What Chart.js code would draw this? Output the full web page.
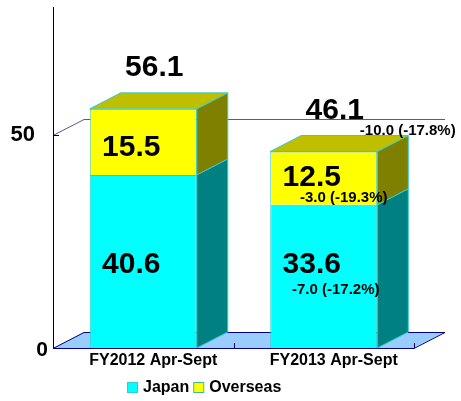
<!DOCTYPE html>
<html>
<head>
<meta charset="utf-8">
<script src="https://cdn.jsdelivr.net/npm/chart.js@4.4.1/dist/chart.umd.min.js"></script>
<style>
  html, body { margin: 0; padding: 0; background: #fff; }
  canvas { display: block; }
</style>
</head>
<body>
<canvas id="c" width="461" height="401"></canvas>
<script>
const categories = ["FY2012 Apr-Sept", "FY2013 Apr-Sept"];
const japan = [40.6, 33.6];
const overseas = [15.5, 12.5];
const japanChange = ["", "-7.0 (-17.2%)"];
const overseasChange = ["", "-3.0 (-19.3%)"];
const totalChange = ["", "-10.0 (-17.8%)"];
const yTicks = [0, 50];
const seriesNames = ["Japan", "Overseas"];

const DX = 31, DY = -16; // 3D depth
const FONT = '"Liberation Sans", Arial, sans-serif';

function poly(ctx, pts, fill, stroke) {
  ctx.beginPath();
  ctx.moveTo(pts[0][0], pts[0][1]);
  for (let i = 1; i < pts.length; i++) ctx.lineTo(pts[i][0], pts[i][1]);
  ctx.closePath();
  if (fill) { ctx.fillStyle = fill; ctx.fill(); }
  if (stroke) { ctx.strokeStyle = stroke; ctx.lineWidth = 1; ctx.stroke(); }
}

const backdrop = {
  id: "backdrop",
  beforeDatasetsDraw(chart) {
    const { ctx, chartArea: a, scales: { x, y } } = chart;
    ctx.save();
    // floor
    poly(ctx, [[a.left, a.bottom], [a.left + DX, a.bottom + DY], [a.right + DX, a.bottom + DY], [a.right, a.bottom]], "#99CCFF", null);
    ctx.strokeStyle = "#000080";
    ctx.lineWidth = 1;
    ctx.beginPath();
    ctx.moveTo(a.left, a.bottom + 0.5); ctx.lineTo(a.right, a.bottom + 0.5);
    ctx.lineTo(a.right + DX, a.bottom + DY + 0.5);
    ctx.lineTo(a.left + DX, a.bottom + DY + 0.5);
    ctx.lineTo(a.left, a.bottom + 0.5);
    ctx.stroke();
    // category separators on floor edge
    for (let i = 0; i < categories.length; i++) {
      const px = Math.round(x.getPixelForValue(i) + (x.getPixelForValue(1) - x.getPixelForValue(0)) / 2) + 0.5;
      ctx.beginPath(); ctx.moveTo(px, a.bottom); ctx.lineTo(px, a.bottom - 5); ctx.stroke();
    }
    // gridlines (skip 0)
    ctx.strokeStyle = "#5555A8";
    yTicks.forEach(v => {
      if (v === 0) return;
      const py = Math.round(y.getPixelForValue(v)) + 0.5;
      ctx.beginPath();
      ctx.moveTo(a.left, py);
      ctx.lineTo(a.left + DX, py + DY);
      ctx.lineTo(a.right + DX, py + DY);
      ctx.stroke();
    });
    // y axis line
    ctx.strokeStyle = "#000";
    ctx.beginPath();
    ctx.moveTo(a.left + 0.5, a.top); ctx.lineTo(a.left + 0.5, a.bottom);
    ctx.stroke();
    yTicks.forEach(v => {
      if (v === 0) return;
      const py = Math.round(y.getPixelForValue(v)) + 0.5;
      ctx.beginPath(); ctx.moveTo(a.left, py); ctx.lineTo(a.left + 6, py); ctx.stroke();
    });
    ctx.restore();
  }
};

const depth = {
  id: "depth",
  afterDatasetsDraw(chart) {
    const { ctx } = chart;
    const sides = ["#008080", "#808000"];
    ctx.save();
    chart.data.datasets.forEach((ds, di) => {
      chart.getDatasetMeta(di).data.forEach(bar => {
        const r = bar.x + bar.width / 2;
        poly(ctx, [[r, bar.y], [r + DX, bar.y + DY], [r + DX, bar.base + DY], [r, bar.base]], sides[di], "#33CCCC");
        if (di === chart.data.datasets.length - 1) {
          const l = bar.x - bar.width / 2;
          poly(ctx, [[l, bar.y], [l + DX, bar.y + DY], [r + DX, bar.y + DY], [r, bar.y]], "#BFBF00", "#33CCCC");
        }
      });
    });
    ctx.restore();
  }
};

const labels = {
  id: "labels",
  afterDraw(chart) {
    const { ctx, chartArea: a, scales: { x, y } } = chart;
    const jm = chart.getDatasetMeta(0).data;
    const om = chart.getDatasetMeta(1).data;
    ctx.save();
    ctx.fillStyle = "#000";
    ctx.textBaseline = "middle";
    ctx.textAlign = "center";
    for (let i = 0; i < categories.length; i++) {
      const cx = jm[i].x;
      // segment values
      ctx.font = "bold 30px " + FONT;
      const jy = jm[i].base - 83;
      ctx.fillText(japan[i].toFixed(1), cx - 12, jy);
      const oy = om[i].base - 27;
      ctx.fillText(overseas[i].toFixed(1), cx - 12, oy);
      const ty = om[i].y - 41;
      ctx.fillText((japan[i] + overseas[i]).toFixed(1), cx + 11, ty);
      // changes
      ctx.font = "bold 15px " + FONT;
      if (japanChange[i]) ctx.fillText(japanChange[i], cx + 12, jy + 25);
      if (overseasChange[i]) ctx.fillText(overseasChange[i], cx + 20, oy + 20);
      if (totalChange[i]) ctx.fillText(totalChange[i], cx + 84, ty + 20);
      // category label
      ctx.font = "bold 16px " + FONT;
      ctx.fillText(categories[i], cx + 10, a.bottom + 13);
    }
    // y tick labels
    ctx.textAlign = "right";
    yTicks.forEach(v => {
      const py = y.getPixelForValue(v);
      if (v === 0) {
        ctx.font = "bold 21px " + FONT;
        ctx.fillText(String(v), a.left - 5, py + 2);
      } else {
        ctx.font = "bold 22px " + FONT;
        ctx.fillText(String(v), a.left - 18, py);
      }
    });
    // legend
    const fills = ["#00FFFF", "#FFFF00"];
    const edges = ["#33CCCC", "#40C080"];
    ctx.textAlign = "left";
    ctx.font = "bold 16px " + FONT;
    let lx = 127;
    const ly = 388;
    seriesNames.forEach((name, i) => {
      ctx.fillStyle = fills[i];
      ctx.fillRect(lx + 0.5, ly - 5.5, 10, 10);
      ctx.strokeStyle = edges[i];
      ctx.lineWidth = 1;
      ctx.strokeRect(lx + 0.5, ly - 5.5, 10, 10);
      ctx.fillStyle = "#000";
      ctx.fillText(name, lx + 16, ly);
      lx += 16 + ctx.measureText(name).width + 4;
    });
    ctx.restore();
  }
};

new Chart(document.getElementById("c").getContext("2d"), {
  type: "bar",
  data: {
    labels: categories,
    datasets: [
      { label: seriesNames[0], data: japan, backgroundColor: "#00FFFF", borderColor: "#33CCCC", borderWidth: 1 },
      { label: seriesNames[1], data: overseas, backgroundColor: "#FFFF00", borderColor: "#33CCCC", borderWidth: 1 }
    ]
  },
  options: {
    responsive: false,
    animation: false,
    layout: { padding: { left: 53, right: 47, top: 7, bottom: 53 } },
    datasets: { bar: { categoryPercentage: 1, barPercentage: 0.593 } },
    scales: {
      x: { stacked: true, display: false },
      y: { stacked: true, display: false, min: 0, max: 80 }
    },
    plugins: { legend: { display: false }, tooltip: { enabled: false } }
  },
  plugins: [backdrop, depth, labels]
});
</script>
</body>
</html>
